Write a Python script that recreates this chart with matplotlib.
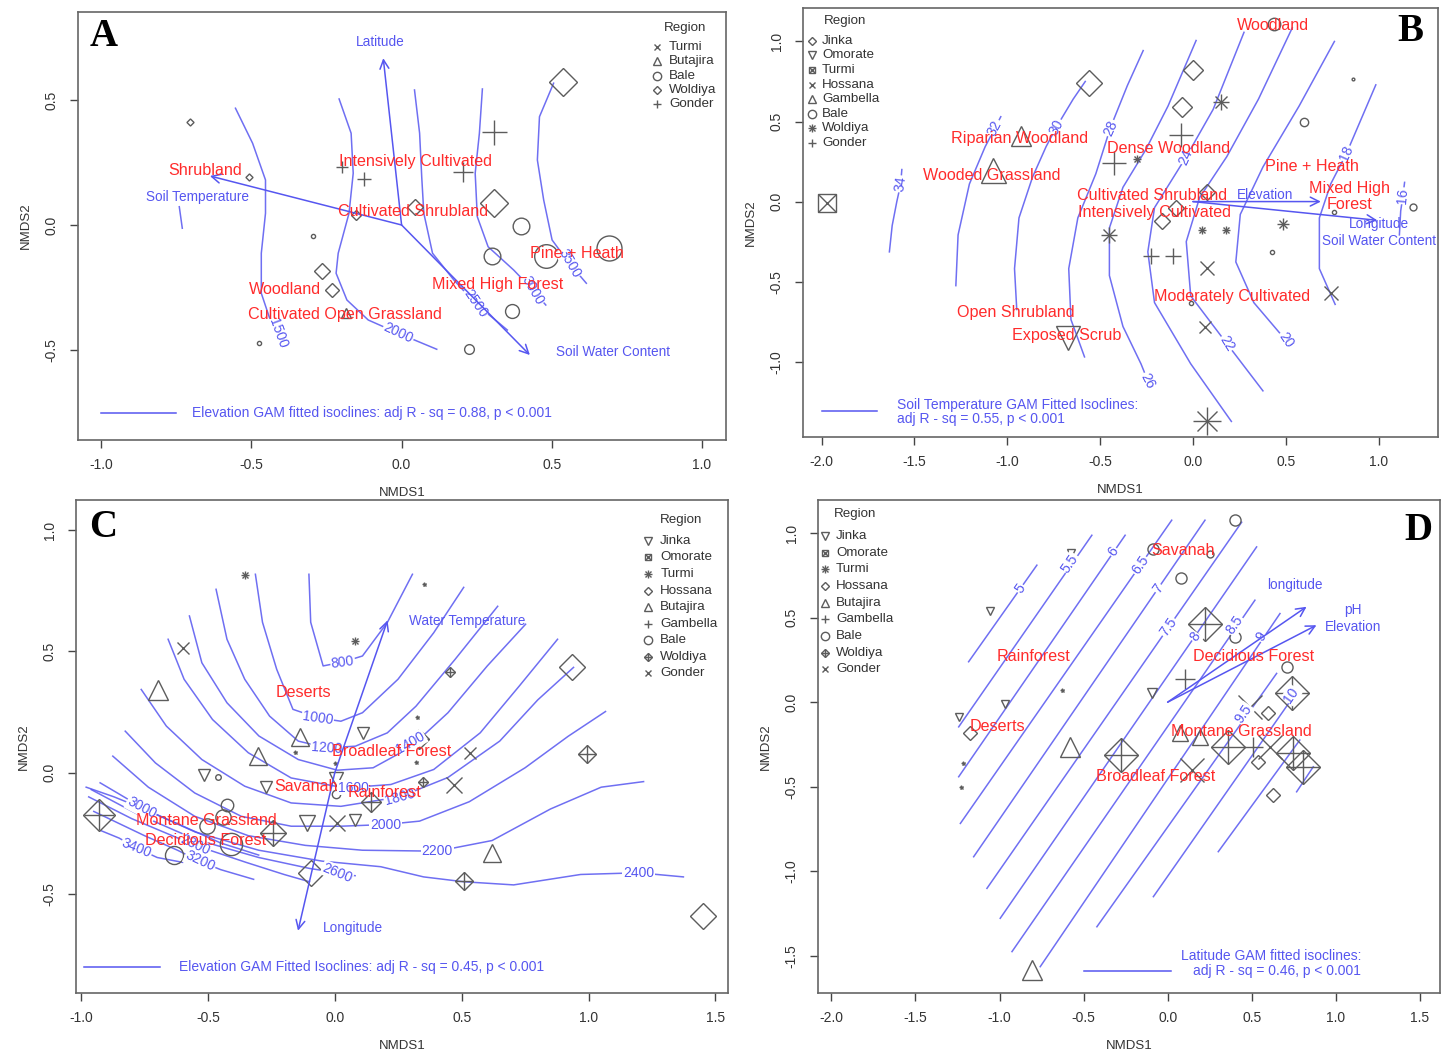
import matplotlib
matplotlib.use('Agg')
import matplotlib.pyplot as plt
from matplotlib.ticker import FormatStrFormatter

plt.rcParams['font.family'] = ['Liberation Sans', 'DejaVu Sans']
plt.rcParams['axes.unicode_minus'] = False

BLUE = '#5656f0'
RED = '#ff2b2b'
GRAY = '#5c5c5c'

# ==============================================================
# PANEL A - data
# ==============================================================
a_regions = ['Turmi', 'Butajira', 'Bale', 'Woldiya', 'Gonder']
a_symbols = ['cross', 'tri_up', 'circle', 'diamond', 'plus']

a_x = [-0.705, -0.507, -0.265, -0.232, -0.151, 0.043, 0.537, 0.309,
       -0.296, -0.474, 0.397, 0.302, 0.480, 0.689, 0.366, 0.224,
       0.306, 0.205, -0.125, -0.199, -0.185]
a_y = [0.410, 0.193, -0.184, -0.260, 0.040, 0.073, 0.573, 0.087,
       -0.044, -0.470, -0.003, -0.124, -0.124, -0.093, -0.343, -0.496,
       0.373, 0.213, 0.184, 0.233, -0.353]
a_reg = ['Woldiya'] * 8 + ['Bale'] * 8 + ['Gonder'] * 4 + ['Butajira']
a_cex = [5, 5, 11, 10, 7, 11, 20, 20,
         3, 3, 12, 12, 17, 18, 10, 7,
         18, 14, 10, 8, 7]

a_vectors = ['Latitude', 'Soil Temperature', 'Soil Water Content']
a_vec_x = [-0.061, -0.638, 0.427]
a_vec_y = [0.667, 0.196, -0.520]
a_vec_lab_x = [-0.071, -0.678, 0.705]
a_vec_lab_y = [0.731, 0.113, -0.509]

a_classes = ['Shrubland', 'Intensively Cultivated', 'Cultivated Shrubland',
             'Pine + Heath', 'Mixed High Forest', 'Woodland',
             'Cultivated Open Grassland']
a_class_x = [-0.655, 0.046, 0.038, 0.584, 0.319, -0.389, -0.189]
a_class_y = [0.217, 0.253, 0.053, -0.116, -0.237, -0.260, -0.357]

a_iso_labels = ['', '1500', '2000', '2500', '3000', '3500']
a_iso_x = [
    [-0.740, -0.730],
    [-0.553, -0.496, -0.453, -0.453, -0.467, -0.467, -0.440, -0.400],
    [-0.208, -0.168, -0.161, -0.175, -0.211, -0.218, -0.182, -0.111, -0.011, 0.117],
    [0.043, 0.060, 0.067, 0.074, 0.103, 0.174, 0.245, 0.352],
    [0.269, 0.259, 0.245, 0.252, 0.288, 0.373, 0.437, 0.480],
    [0.506, 0.459, 0.452, 0.473, 0.501, 0.558, 0.615],
]
a_iso_y = [
    [0.073, -0.013],
    [0.467, 0.327, 0.180, 0.047, -0.113, -0.273, -0.370, -0.440],
    [0.504, 0.367, 0.207, 0.047, -0.113, -0.193, -0.300, -0.380, -0.433, -0.497],
    [0.540, 0.367, 0.193, 0.047, -0.113, -0.220, -0.313, -0.420],
    [0.544, 0.367, 0.207, 0.033, -0.087, -0.180, -0.260, -0.320],
    [0.567, 0.433, 0.260, 0.100, -0.060, -0.153, -0.233],
]
a_iso_lab_x = [0, -0.410, -0.011, 0.245, 0.437, 0.558]
a_iso_lab_y = [0, -0.433, -0.433, -0.313, -0.260, -0.153]
a_iso_rot = [0, -70, -25, -55, -60, -60]

# ==============================================================
# PANEL B - data
# ==============================================================
b_regions = ['Jinka', 'Omorate', 'Turmi', 'Hossana', 'Gambella', 'Bale',
             'Woldiya', 'Gonder']
b_symbols = ['diamond', 'tri_down', 'sqx', 'cross', 'tri_up', 'circle',
             'aster', 'plus']

b_x = [-1.970,
       -0.925, -1.078,
       -0.560, 0.000, -0.061, 0.078, -0.092, -0.165,
       0.438, 0.596, 1.187, 0.762, 0.426, -0.012, 0.864,
       0.153, -0.304, -0.450, 0.049, 0.178, 0.487, 0.078,
       -0.066, -0.426, -0.224, -0.105,
       0.078, 0.066, 0.742,
       -0.674]
b_y = [-0.006,
       0.407, 0.195,
       0.742, 0.820, 0.593, 0.057, -0.038, -0.123,
       1.110, 0.496, -0.032, -0.064, -0.318, -0.631, 0.763,
       0.619, 0.269, -0.208, -0.176, -0.176, -0.140, -1.373,
       0.417, 0.242, -0.339, -0.339,
       -0.413, -0.786, -0.568,
       -0.854]
b_reg = (['Turmi'] + ['Gambella'] * 2 + ['Jinka'] * 6 + ['Bale'] * 7
         + ['Woldiya'] * 7 + ['Gonder'] * 4 + ['Hossana'] * 3 + ['Omorate'])
b_cex = [16,
         14, 18,
         18, 14, 14, 11, 11, 12,
         9, 6, 5, 3, 3, 3, 2,
         12, 6, 12, 6, 6, 8, 20,
         17, 17, 12, 12,
         12, 10, 12,
         17]

b_vectors = ['Elevation', 'Longitude\nSoil Water Content']
b_vec_x = [0.689, 0.993]
b_vec_y = [0.000, -0.117]
b_vec_lab_x = [0.389, 1.000]
b_vec_lab_y = [0.040, -0.195]

b_classes = ['Woodland', 'Riparian Woodland', 'Dense Woodland',
             'Wooded Grassland', 'Pine + Heath', 'Mixed High\nForest',
             'Cultivated Shrubland', 'Intensively Cultivated',
             'Moderately Cultivated', 'Open Shrubland', 'Exposed Scrub']
b_class_x = [0.433, -0.932, -0.134, -1.083, 0.640, 0.844, -0.219, -0.207,
             0.212, -0.956, -0.681]
b_class_y = [1.102, 0.396, 0.333, 0.163, 0.216, 0.032, 0.040, -0.070,
             -0.593, -0.691, -0.837]

b_iso_labels = ['34', '32', '30', '28', '26', '24', '22', '20', '18', '16']
b_iso_x = [
    [-1.635, -1.620, -1.595, -1.574, -1.568],
    [-1.277, -1.265, -1.204, -1.119, -1.066, -1.035],
    [-0.949, -0.961, -0.937, -0.864, -0.791, -0.735, -0.645, -0.580],
    [-0.584, -0.657, -0.669, -0.620, -0.523, -0.445, -0.353, -0.268],
    [-0.243, -0.280, -0.377, -0.450, -0.450, -0.377, -0.255, -0.134, 0.017],
    [0.207, -0.012, -0.207, -0.243, -0.207, -0.036, 0.109, 0.275],
    [0.377, 0.182, -0.012, -0.036, 0.036, 0.182, 0.353, 0.535],
    [0.499, 0.328, 0.231, 0.255, 0.377, 0.572, 0.762],
    [0.766, 0.681, 0.681, 0.742, 0.827, 0.985],
    [1.112, 1.119, 1.131, 1.140],
]
b_iso_y = [
    [-0.314, -0.150, 0.000, 0.110, 0.200],
    [-0.525, -0.208, 0.110, 0.343, 0.460, 0.530],
    [-0.674, -0.419, -0.102, 0.153, 0.343, 0.466, 0.640, 0.750],
    [-0.970, -0.737, -0.419, -0.102, 0.174, 0.460, 0.725, 0.943],
    [-1.119, -1.013, -0.780, -0.462, -0.165, 0.089, 0.322, 0.597, 1.006],
    [-1.373, -1.013, -0.631, -0.314, -0.038, 0.280, 0.576, 1.057],
    [-1.182, -0.886, -0.589, -0.250, 0.025, 0.280, 0.640, 1.085],
    [-0.864, -0.631, -0.377, -0.080, 0.216, 0.597, 1.000],
    [-0.642, -0.419, -0.102, 0.110, 0.301, 0.729],
    [-0.208, -0.059, 0.036, 0.120],
]
b_iso_lab_x = [-1.574, -1.066, -0.735, -0.445, -0.243, -0.036, 0.182, 0.499, 0.827, 1.131]
b_iso_lab_y = [0.110, 0.460, 0.466, 0.460, -1.119, 0.280, -0.886, -0.864, 0.301, 0.036]
b_iso_rot = [82, 62, 62, 66, -62, 66, -58, -55, 66, 85]

# ==============================================================
# PANEL C - data
# ==============================================================
c_regions = ['Jinka', 'Omorate', 'Turmi', 'Hossana', 'Butajira',
             'Gambella', 'Bale', 'Woldiya', 'Gonder']
c_symbols = ['tri_down', 'sqx', 'aster', 'diamond', 'tri_up', 'plus',
             'circle', 'dplus', 'cross']

c_x = [-0.353, 0.078, 0.353, -0.158, 0.000, 0.325, 0.322,
       -0.600, 0.533, 0.468, 0.009,
       -0.697, -0.136, -0.301, 0.619,
       0.935, 1.450, -0.093,
       0.455, 0.331, 0.348, 0.143, 0.996, 0.509, -0.929, -0.245,
       -0.515, 0.112, 0.004, -0.273, -0.108, 0.080,
       -0.461, -0.424, -0.442, -0.409, -0.632, 0.004, -0.502]
c_y = [0.815, 0.544, 0.776, 0.085, 0.040, 0.230, 0.045,
       0.514, 0.082, -0.052, -0.209,
       0.339, 0.148, 0.067, -0.333,
       0.436, -0.592, -0.413,
       0.414, 0.138, -0.037, -0.120, 0.075, -0.445, -0.176, -0.248,
       -0.009, 0.164, -0.027, -0.061, -0.206, -0.196,
       -0.016, -0.135, -0.184, -0.296, -0.341, -0.087, -0.221]
c_reg = (['Turmi'] * 7 + ['Gonder'] * 4 + ['Butajira'] * 4 + ['Hossana'] * 3
         + ['Woldiya'] * 8 + ['Jinka'] * 6 + ['Bale'] * 7)
c_cex = [6, 6, 3, 3, 3, 3, 3,
         11, 11, 15, 15,
         14, 13, 13, 13,
         18, 18, 18,
         7, 14, 7, 14, 13, 13, 22, 19,
         9, 9, 10, 9, 11, 9,
         4, 9, 11, 16, 13, 6, 11]

c_vectors = ['Water Temperature', 'Longitude']
c_vec_x = [0.208, -0.145]
c_vec_y = [0.628, -0.652]
c_vec_lab_x = [0.520, 0.070]
c_vec_lab_y = [0.624, -0.640]

c_classes = ['Deserts', 'Broadleaf Forest', 'Savanah', 'Rainforest',
             'Montane Grassland', 'Decidious Forest']
c_class_x = [-0.122, 0.224, -0.114, 0.197, -0.508, -0.508]
c_class_y = [0.330, 0.087, -0.058, -0.083, -0.198, -0.281]

c_iso_labels = ['800', '1000', '1200', '1400', '1600', '1800', '2000',
                '2200', '2400', '2600', '2800', '3000', '3200', '3400']
c_iso_x = [
    [-0.102, -0.095, -0.046, 0.031, 0.109, 0.207, 0.306],
    [-0.313, -0.285, -0.229, -0.165, -0.067, 0.024, 0.109, 0.249, 0.390, 0.508],
    [-0.468, -0.425, -0.355, -0.257, -0.144, -0.032, 0.081, 0.207, 0.320, 0.474, 0.642],
    [-0.573, -0.524, -0.425, -0.299, -0.144, 0.010, 0.151, 0.299, 0.446, 0.601, 0.752],
    [-0.657, -0.594, -0.482, -0.341, -0.172, 0.039, 0.221, 0.390, 0.573, 0.727, 0.878],
    [-0.763, -0.664, -0.524, -0.355, -0.172, 0.024, 0.256, 0.446, 0.650, 0.800, 0.941],
    [-0.826, -0.707, -0.552, -0.369, -0.172, 0.024, 0.200, 0.334, 0.530, 0.750, 0.920, 1.067],
    [-0.875, -0.735, -0.552, -0.341, -0.116, 0.109, 0.404, 0.620, 0.850, 1.050, 1.217],
    [-0.925, -0.750, -0.550, -0.300, -0.050, 0.181, 0.350, 0.508, 0.705, 0.969, 1.197, 1.374],
    [-0.960, -0.780, -0.550, -0.300, -0.100, 0.010, 0.080],
    [-0.970, -0.800, -0.550, -0.350, -0.200, -0.100],
    [-0.980, -0.870, -0.762, -0.600, -0.450, -0.300],
    [-0.950, -0.750, -0.620, -0.531, -0.450, -0.320],
    [-0.920, -0.850, -0.781, -0.700, -0.600],
]
c_iso_y = [
    [0.818, 0.620, 0.440, 0.456, 0.481, 0.619, 0.818],
    [0.818, 0.620, 0.426, 0.261, 0.226, 0.212, 0.247, 0.385, 0.577, 0.764],
    [0.756, 0.550, 0.385, 0.233, 0.130, 0.102, 0.109, 0.164, 0.274, 0.467, 0.686],
    [0.646, 0.453, 0.288, 0.151, 0.054, 0.010, 0.020, 0.105, 0.247, 0.440, 0.612],
    [0.550, 0.385, 0.219, 0.082, -0.022, -0.063, -0.049, 0.013, 0.164, 0.357, 0.550],
    [0.343, 0.192, 0.054, -0.056, -0.125, -0.139, -0.100, -0.020, 0.130, 0.300, 0.434],
    [0.171, 0.040, -0.084, -0.180, -0.221, -0.221, -0.214, -0.200, -0.120, 0.020, 0.150, 0.252],
    [0.068, -0.060, -0.180, -0.260, -0.300, -0.320, -0.324, -0.280, -0.150, -0.060, -0.037],
    [-0.042, -0.150, -0.245, -0.320, -0.365, -0.388, -0.430, -0.450, -0.463, -0.420, -0.413, -0.430],
    [-0.070, -0.170, -0.275, -0.350, -0.395, -0.413, -0.425],
    [-0.100, -0.190, -0.300, -0.370, -0.420, -0.450],
    [-0.060, -0.100, -0.146, -0.220, -0.290, -0.340],
    [-0.160, -0.260, -0.320, -0.366, -0.400, -0.440],
    [-0.240, -0.270, -0.311, -0.350, -0.370],
]
c_iso_lab_x = [0.031, -0.067, -0.032, 0.299, 0.072, 0.256, 0.200, 0.404,
               1.197, 0.010, -0.550, -0.762, -0.531, -0.781]
c_iso_lab_y = [0.456, 0.226, 0.102, 0.123, -0.062, -0.100, -0.214, -0.324,
               -0.413, -0.413, -0.300, -0.146, -0.366, -0.311]
c_iso_rot = [8, -8, -4, 30, 0, 15, 0, 0, 0, -22, -25, -28, -25, -22]

# ==============================================================
# PANEL D - data
# ==============================================================
d_regions = c_regions
d_symbols = c_symbols

d_x = [-1.055, -0.574, -0.966, -1.243, -0.095,
       -1.217, -1.229, -0.629,
       -1.178, 0.598, 0.539, 0.624,
       -0.580, -0.808, 0.074, 0.192,
       0.222, -0.279, 0.737, 0.361, 0.747, 0.806,
       0.103, 0.509,
       0.400, 0.078, -0.089, 0.252, 0.400, 0.707,
       0.490, 0.143, 0.608]
d_y = [0.538, 0.883, -0.008, -0.090, 0.055,
       -0.362, -0.500, 0.071,
       -0.185, -0.067, -0.352, -0.549,
       -0.264, -1.584, -0.185, -0.205,
       0.465, -0.313, 0.055, -0.264, -0.303, -0.382,
       0.136, -0.264,
       1.080, 0.737, 0.908, 0.879, 0.386, 0.209,
       -0.027, -0.402, -0.264]
d_reg = (['Jinka'] * 5 + ['Turmi'] * 3 + ['Hossana'] * 4 + ['Butajira'] * 4
         + ['Woldiya'] * 6 + ['Gambella'] * 2 + ['Bale'] * 6 + ['Gonder'] * 3)
d_cex = [6, 6, 6, 6, 7,
         3, 3, 3,
         10, 10, 10, 10,
         14, 14, 12, 12,
         24, 24, 24, 24, 24, 24,
         15, 15,
         8, 8, 8, 5, 8, 8,
         22, 22, 22]

d_vectors = ['longitude', 'pH\nElevation']
d_vec_x = [0.826, 0.885]
d_vec_y = [0.564, 0.455]
d_vec_lab_x = [0.757, 1.100]
d_vec_lab_y = [0.690, 0.494]

d_classes = ['Savanah', 'Rainforest', 'Decidious Forest', 'Deserts',
             'Montane Grassland', 'Broadleaf Forest']
d_class_x = [0.089, -0.798, 0.513, -1.011, 0.436, -0.069]
d_class_y = [0.899, 0.268, 0.268, -0.146, -0.171, -0.441]

d_iso_labels = ['5', '5.5', '6', '6.5', '7', '7.5', '8', '8.5', '9', '9.5',
                '10', '', '']
d_iso_x = [
    [-1.184, -0.778], [-1.243, -0.451], [-1.243, -0.253], [-1.233, 0.024],
    [-1.154, 0.222], [-1.075, 0.440], [-0.996, 0.529], [-0.926, 0.519],
    [-0.758, 0.668], [-0.421, 0.648], [-0.085, 0.747], [0.301, 0.786],
    [0.767, 0.866],
]
d_iso_y = [
    [0.239, 0.810], [-0.146, 0.987], [-0.441, 0.987], [-0.717, 1.076],
    [-0.914, 1.076], [-1.101, 1.064], [-1.278, 0.918], [-1.475, 0.603],
    [-1.564, 0.524], [-1.328, 0.170], [-1.150, 0.032], [-0.884, -0.224],
    [-0.530, -0.382],
]
d_iso_lab_x = [-0.877, -0.580, -0.322, -0.164, -0.055, 0.004, 0.163, 0.400,
               0.559, 0.450, 0.737, 0, 0]
d_iso_lab_y = [0.672, 0.820, 0.889, 0.810, 0.672, 0.445, 0.386, 0.455,
               0.386, -0.067, 0.042, 0, 0]


# ==============================================================
# helpers
# ==============================================================
def mark(ax, x, y, kind, ms, trans=None):
    kw = dict(color=GRAY, mfc='none', mew=1.0, linestyle='none')
    if trans is not None:
        kw['transform'] = trans
        kw['clip_on'] = False
    if kind == 'circle':
        ax.plot([x], [y], 'o', ms=ms, **kw)
    elif kind == 'tri_up':
        ax.plot([x], [y], '^', ms=ms, **kw)
    elif kind == 'tri_down':
        ax.plot([x], [y], 'v', ms=ms, **kw)
    elif kind == 'plus':
        ax.plot([x], [y], '+', ms=ms, **kw)
    elif kind == 'cross':
        ax.plot([x], [y], 'x', ms=ms * 0.8, **kw)
    elif kind == 'diamond':
        ax.plot([x], [y], 'D', ms=ms * 0.72, **kw)
    elif kind == 'sqx':
        ax.plot([x], [y], 's', ms=ms * 0.8, **kw)
        ax.plot([x], [y], 'x', ms=ms * 0.8, **kw)
    elif kind == 'aster':
        ax.plot([x], [y], '+', ms=ms, **kw)
        ax.plot([x], [y], 'x', ms=ms * 0.72, **kw)
    elif kind == 'dplus':
        ax.plot([x], [y], 'D', ms=ms * 0.72, **kw)
        ax.plot([x], [y], '+', ms=ms, **kw)


def setup(ax, xlim, ylim, xt, yt):
    ax.set_xlim(*xlim)
    ax.set_ylim(*ylim)
    ax.set_xticks(xt)
    ax.set_yticks(yt)
    ax.xaxis.set_major_formatter(FormatStrFormatter('%.1f'))
    ax.yaxis.set_major_formatter(FormatStrFormatter('%.1f'))
    ax.tick_params(direction='out', length=6, width=1, colors='#444444',
                   labelsize=10, labelcolor='#333333')
    ax.tick_params(axis='x', pad=7)
    ax.tick_params(axis='y', pad=8)
    for lab in ax.get_yticklabels():
        lab.set_rotation(90)
        lab.set_va('center')
    for sp in ax.spines.values():
        sp.set_color('#666666')
        sp.set_linewidth(1.2)
    ax.set_xlabel('NMDS1', fontsize=9.5, color='#333333', labelpad=11)
    ax.set_ylabel('NMDS2', fontsize=9.5, color='#333333', labelpad=9)


def draw_panel(ax, regions, symbols, xs, ys, reg, cex,
               vec, vx, vy, vlx, vly,
               classes, cx, cy,
               iso_lab, iso_x, iso_y, lab_x, lab_y, lab_rot):
    # isoclines
    for k in range(len(iso_x)):
        ax.plot(iso_x[k], iso_y[k], color=BLUE, lw=1.1, alpha=0.85)
        if iso_lab[k]:
            ax.text(lab_x[k], lab_y[k], iso_lab[k], color=BLUE, fontsize=10,
                    rotation=lab_rot[k], ha='center', va='center',
                    rotation_mode='anchor',
                    bbox=dict(fc='white', ec='none', pad=0.6))
    # sites
    sym = dict(zip(regions, symbols))
    for x, y, r, s in zip(xs, ys, reg, cex):
        mark(ax, x, y, sym[r], s)
    # fitted vectors
    for name, x, y, lx, ly in zip(vec, vx, vy, vlx, vly):
        ax.annotate('', xy=(x, y), xytext=(0, 0),
                    arrowprops=dict(arrowstyle='->', color=BLUE, lw=1.1,
                                    mutation_scale=16, shrinkA=0, shrinkB=0))
        ax.text(lx, ly, name, color=BLUE, fontsize=9.8, ha='center',
                va='center', linespacing=1.25)
    # class centroids
    for name, x, y in zip(classes, cx, cy):
        ax.text(x, y, name, color=RED, fontsize=11.6, ha='center',
                va='center', linespacing=1.1)


def draw_legend(ax, regions, symbols, mx, tx, y0, dy, title_x, title_y):
    ax.text(title_x, title_y, 'Region', transform=ax.transAxes,
            fontsize=9.6, color='#333333', ha='center', va='center')
    for i, (r, s) in enumerate(zip(regions, symbols)):
        yy = y0 - i * dy
        mark(ax, mx, yy, s, 6, trans=ax.transAxes)
        ax.text(tx, yy, r, transform=ax.transAxes, fontsize=9.6,
                color='#333333', ha='left', va='center')


def draw_letter(ax, letter, fx, fy):
    ax.text(fx, fy, letter, transform=ax.transAxes, fontsize=28,
            fontweight='bold', family='Liberation Serif', ha='center',
            va='center', color='black')


fig = plt.figure(figsize=(14.48, 10.57), dpi=100)

# ==============================================================
# A
# ==============================================================
ax = fig.add_axes([0.0539, 0.5837, 0.4475, 0.4050])
setup(ax, (-1.077, 1.080), (-0.860, 0.852),
      [-1.0, -0.5, 0.0, 0.5, 1.0], [0.5, 0.0, -0.5])
draw_panel(ax, a_regions, a_symbols, a_x, a_y, a_reg, a_cex,
           a_vectors, a_vec_x, a_vec_y, a_vec_lab_x, a_vec_lab_y,
           a_classes, a_class_x, a_class_y,
           a_iso_labels, a_iso_x, a_iso_y, a_iso_lab_x, a_iso_lab_y, a_iso_rot)
draw_legend(ax, a_regions, a_symbols, 0.894, 0.912, 0.918, 0.0333, 0.937, 0.963)
ax.plot([-1.0, -0.75], [-0.752, -0.752], color=BLUE, lw=1.1)
ax.text(-0.697, -0.752, 'Elevation GAM fitted isoclines: adj R - sq = 0.88, p < 0.001',
        color=BLUE, fontsize=10, ha='left', va='center')
draw_letter(ax, 'A', 0.040, 0.942)

# ==============================================================
# B
# ==============================================================
ax = fig.add_axes([0.5546, 0.5866, 0.4385, 0.4060])
setup(ax, (-2.10, 1.32), (-1.47, 1.21),
      [-2.0, -1.5, -1.0, -0.5, 0.0, 0.5, 1.0], [1.0, 0.5, 0.0, -0.5, -1.0])
draw_panel(ax, b_regions, b_symbols, b_x, b_y, b_reg, b_cex,
           b_vectors, b_vec_x, b_vec_y, b_vec_lab_x, b_vec_lab_y,
           b_classes, b_class_x, b_class_y,
           b_iso_labels, b_iso_x, b_iso_y, b_iso_lab_x, b_iso_lab_y, b_iso_rot)
draw_legend(ax, b_regions, b_symbols, 0.014, 0.030, 0.923, 0.034, 0.066, 0.970)
ax.plot([-2.0, -1.70], [-1.31, -1.31], color=BLUE, lw=1.1)
ax.text(-1.595, -1.27, 'Soil Temperature GAM Fitted Isoclines:', color=BLUE,
        fontsize=10, ha='left', va='center')
ax.text(-1.595, -1.36, 'adj R - sq = 0.55, p < 0.001', color=BLUE,
        fontsize=10, ha='left', va='center')
draw_letter(ax, 'B', 0.956, 0.944)

# ==============================================================
# C
# ==============================================================
ax = fig.add_axes([0.0525, 0.0605, 0.4503, 0.4664])
setup(ax, (-1.02, 1.55), (-0.909, 1.124),
      [-1.0, -0.5, 0.0, 0.5, 1.0, 1.5], [1.0, 0.5, 0.0, -0.5])
draw_panel(ax, c_regions, c_symbols, c_x, c_y, c_reg, c_cex,
           c_vectors, c_vec_x, c_vec_y, c_vec_lab_x, c_vec_lab_y,
           c_classes, c_class_x, c_class_y,
           c_iso_labels, c_iso_x, c_iso_y, c_iso_lab_x, c_iso_lab_y, c_iso_rot)
draw_legend(ax, c_regions, c_symbols, 0.877, 0.896, 0.917, 0.0335, 0.928, 0.959)
ax.plot([-0.99, -0.69], [-0.80, -0.80], color=BLUE, lw=1.1)
ax.text(-0.614, -0.80, 'Elevation GAM Fitted Isoclines: adj R - sq = 0.45, p < 0.001',
        color=BLUE, fontsize=10, ha='left', va='center')
draw_letter(ax, 'C', 0.041, 0.945)

# ==============================================================
# D
# ==============================================================
ax = fig.add_axes([0.5649, 0.0605, 0.4296, 0.4664])
setup(ax, (-2.08, 1.62), (-1.72, 1.195),
      [-2.0, -1.5, -1.0, -0.5, 0.0, 0.5, 1.0, 1.5],
      [1.0, 0.5, 0.0, -0.5, -1.0, -1.5])
draw_panel(ax, d_regions, d_symbols, d_x, d_y, d_reg, d_cex,
           d_vectors, d_vec_x, d_vec_y, d_vec_lab_x, d_vec_lab_y,
           d_classes, d_class_x, d_class_y,
           d_iso_labels, d_iso_x, d_iso_y, d_iso_lab_x, d_iso_lab_y,
           [55] * len(d_iso_labels))
draw_legend(ax, d_regions, d_symbols, 0.011, 0.029, 0.927, 0.0338, 0.059, 0.972)
ax.plot([-0.50, 0.02], [-1.59, -1.59], color=BLUE, lw=1.1)
ax.text(1.15, -1.50, 'Latitude GAM fitted isoclines:', color=BLUE,
        fontsize=10, ha='right', va='center')
ax.text(1.15, -1.59, 'adj R - sq = 0.46, p < 0.001', color=BLUE,
        fontsize=10, ha='right', va='center')
draw_letter(ax, 'D', 0.965, 0.939)

fig.savefig('out.png', dpi=100)
